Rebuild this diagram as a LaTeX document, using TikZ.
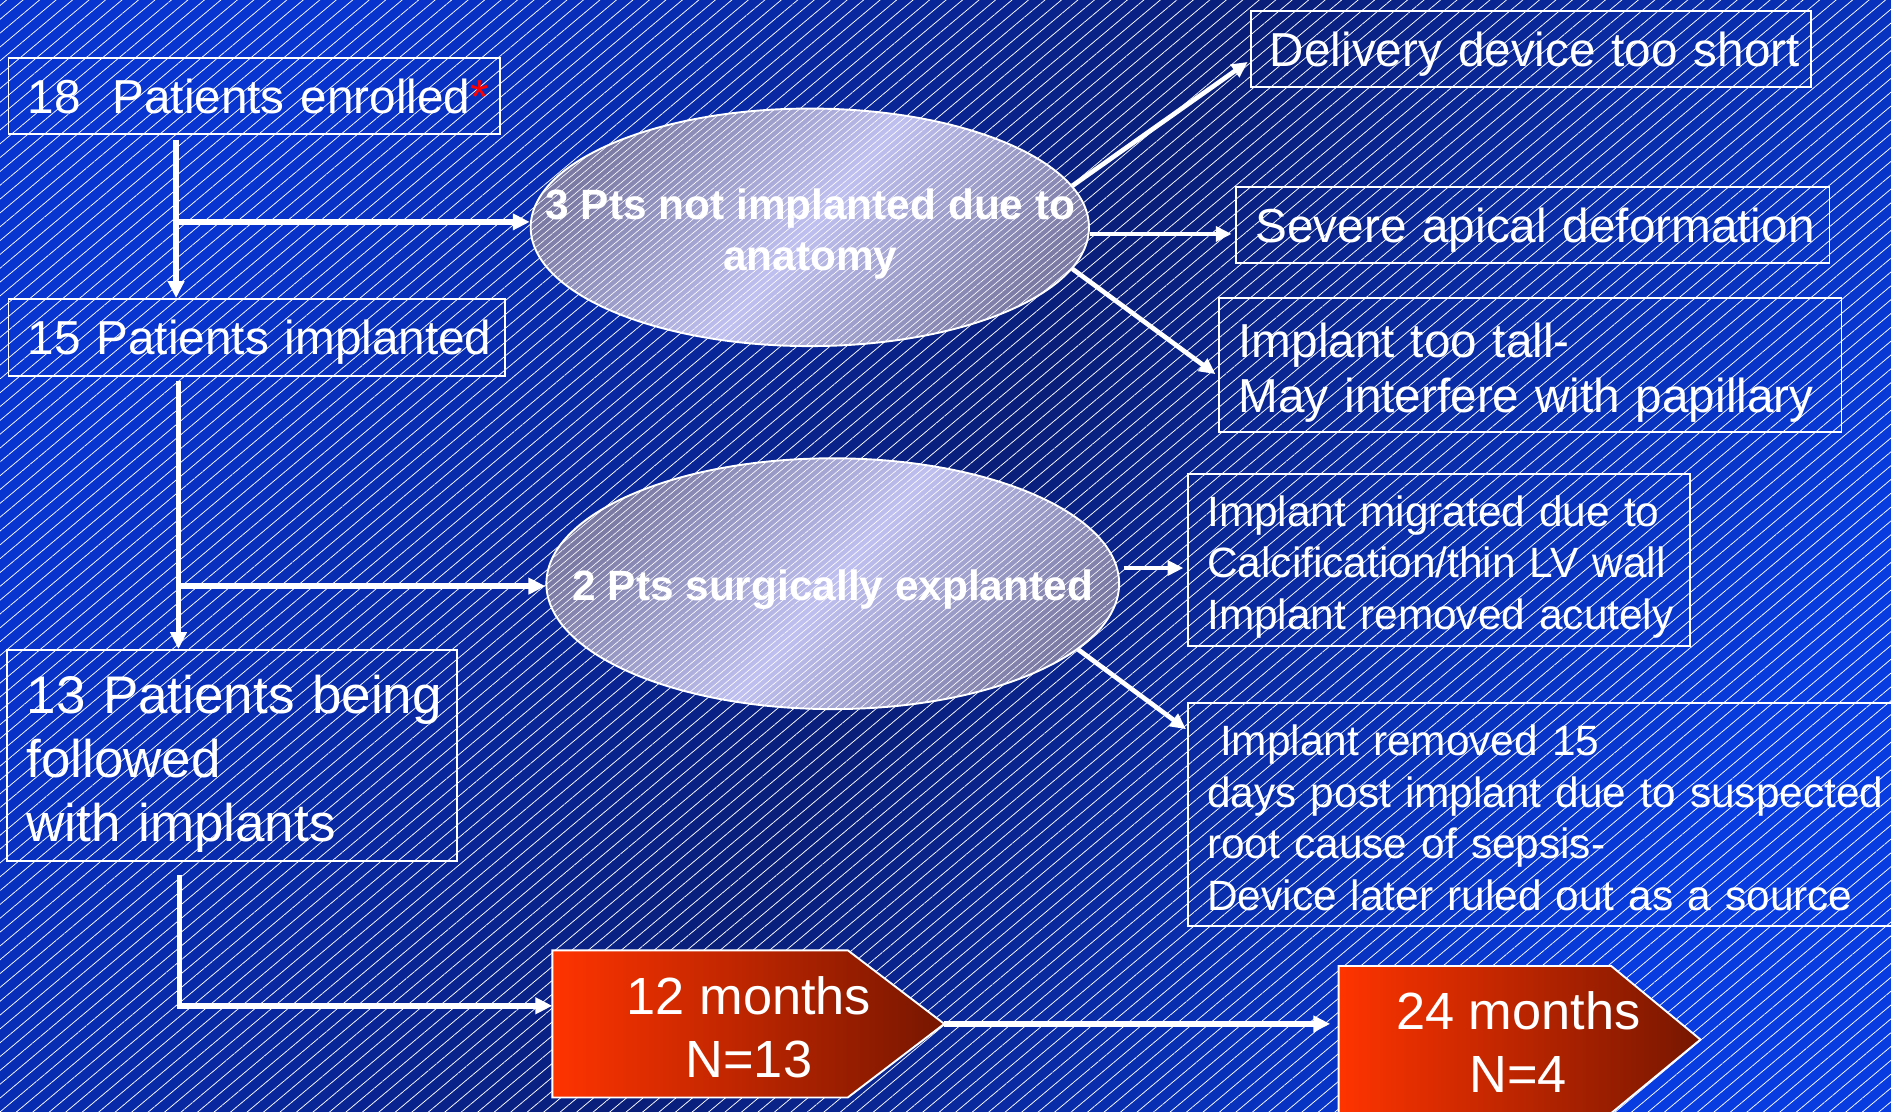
\documentclass[tikz,border=0pt]{standalone}
\usepackage{fontspec}
\setmainfont{Liberation Sans}
\usetikzlibrary{arrows.meta,shapes.geometric,patterns.meta,calc}

\definecolor{bgA}{RGB}{8,52,208}
\definecolor{bgB}{RGB}{9,30,120}
\definecolor{bgC}{RGB}{8,60,224}
\definecolor{ellOut}{RGB}{122,122,164}
\definecolor{ellIn}{RGB}{192,192,240}
\definecolor{penL}{RGB}{255,52,0}
\definecolor{penR}{RGB}{118,22,0}

\newcommand\fszBig{\fontsize{22.5}{26}\selectfont}
\newcommand\fszC{\fontsize{25}{30.2}\selectfont}
\newcommand\fszSmall{\fontsize{20}{24.3}\selectfont}
\newcommand\fszEll{\bfseries\fontsize{20}{24}\selectfont}
\newcommand\fszPen{\fontsize{24.7}{29.6}\selectfont}
\newcommand\lbx[1]{\mbox{#1}}
\newcommand\tstr[1]{\rule{0pt}{#1em}}

\begin{document}
\begin{tikzpicture}[x=0.02cm,y=-0.02cm,
  bx/.style={draw=white, line width=0.9pt, text=white, align=left,
             inner xsep=0.32cm, inner ysep=0pt},
  bx1/.style={bx, text depth=0pt},
  ell/.style={ellipse, draw=white, line width=0.9pt, inner sep=0pt,
              top color=ellOut, bottom color=ellOut, middle color=ellIn,
              shading angle=50,
              postaction={pattern={Lines[angle=40,distance=2.5pt,line width=0.3pt]},
                          pattern color=white, fill opacity=0.05}},
  etxt/.style={text=white, align=center, font=\fszEll, inner sep=0pt},
  pent/.style={draw=white, line width=0.9pt, left color=penL, right color=penR},
  ptxt/.style={text=white, align=center, font=\fszPen, inner sep=0pt},
  conn/.style={draw=white, line width=2.6pt, -{Triangle[width=7.5pt,length=8pt]}},
  dconn/.style={draw=white, line width=2.2pt, -{Triangle[width=7pt,length=7.5pt]}}
]
\useasboundingbox (0,0) rectangle (1568,922);

% background
\shade[top color=bgA, bottom color=bgC, middle color=bgB, shading angle=60]
  (0,0) rectangle (1568,922);
\fill[pattern={Lines[angle=40,distance=5pt,line width=0.35pt]},
      pattern color=white, fill opacity=0.06] (0,0) rectangle (1568,922);

% left column boxes
\node[bx1, text width=7.52cm, minimum height=1.26cm, font=\fszBig] (A) at (211,79.5)
  {\lbx{18~~Patients enrolled\textcolor{red}{*}}};
\node[bx1, text width=7.60cm, minimum height=1.28cm, font=\fszBig] (B) at (213,280)
  {\lbx{15 Patients implanted}};
\node[bx, text width=6.82cm, minimum height=3.5cm, font=\fszC] (C) at (192.5,626.5)
  {\lbx{\tstr{1.05}13 Patients being}\\\lbx{followed}\\\lbx{with implants}};

% ellipses
\node[ell, minimum width=9.26cm, minimum height=3.94cm] (E1) at (671.5,188.5) {};
\node[etxt] (E1t) at (672,194) {3 Pts not implanted due to\\anatomy};
\node[ell, minimum width=9.5cm, minimum height=4.16cm] (E2) at (690.5,484) {};
\node[etxt] (E2t) at (690.5,489) {2 Pts surgically explanted};

% right boxes
\node[bx1, text width=8.66cm, minimum height=1.26cm, font=\fszBig] (D) at (1269.5,40.5)
  {\lbx{Delivery device too short}};
\node[bx1, text width=9.20cm, minimum height=1.26cm, font=\fszBig] (E) at (1271,186.5)
  {\lbx{Severe apical deformation}};
\node[bx, text width=9.68cm, minimum height=2.22cm, font=\fszBig] (F) at (1269,302.5)
  {\lbx{\tstr{1.06}Implant too tall-}\\\lbx{May interfere with papillary}};
\node[bx, text width=7.68cm, minimum height=2.86cm, font=\fszSmall] (G) at (1193,464.5)
  {\lbx{\tstr{1.04}Implant migrated due to}\\\lbx{Calcification/thin LV wall}\\\lbx{Implant removed acutely}};
\node[bx, text width=11.46cm, minimum height=3.7cm, font=\fszSmall] (H) at (1287.5,675.5)
  {\lbx{\tstr{0.87}\hspace*{0.3em}Implant removed 15}\\\lbx{days post implant due to suspected}\\\lbx{root cause of sepsis-}\\\lbx{Device later ruled out as a source}};

% pentagons
\draw[pent] (458,788) -- (703,788) -- (783,849) -- (703,910) -- (458,910) -- cycle;
\node[ptxt] (P1) at (621,852) {12 months\\N=13};
\coordinate (p1w) at (458,834);
\coordinate (p1tip) at (783,849);
\draw[pent] (1110,801) -- (1336,801) -- (1410,862) -- (1336,923) -- (1110,923) -- cycle;
\node[ptxt] (P2) at (1259,864) {24 months\\N=4};
\coordinate (p2w) at (1110,849);

% junctions
\coordinate (jA) at (146,184);
\coordinate (jB) at (148,486);
\coordinate (xC) at (149,834);

% connectors: left spine
\draw[conn, shorten <=0.08cm] (A.south -| jA) -- (B.north -| jA);
\draw[conn] (jA) -- (jA -| E1.west);
\draw[conn, shorten <=0.06cm] (B.south -| jB) -- (C.north -| jB);
\draw[conn] (jB) -- (jB -| E2.west);
\draw[conn, shorten <=0.22cm] (C.south -| xC) |- (p1w);
\draw[conn, shorten >=0.14cm] (p1tip) -- (p2w);

% connectors from ellipse 1
\draw[dconn, shorten >=0.04cm] (E1.9) -- ($(D.west)!0.3!(D.south west)$);
\draw[dconn, shorten >=0.06cm] ([yshift=-0.11cm]E1.east) -- ([yshift=-0.11cm]E1.east -| E.west);
\draw[dconn, shorten >=0.06cm] (E1.-9) -- ([yshift=-0.19cm]F.west);

% connectors from ellipse 2
\draw[dconn, shorten <=0.06cm, shorten >=0.06cm] ([yshift=0.26cm]E2.east) -- ([yshift=0.26cm]E2.east -| G.west);
\draw[dconn, shorten >=0.02cm] (E2.-15.6) -- ([yshift=-0.46cm]H.north west);

\end{tikzpicture}
\end{document}
